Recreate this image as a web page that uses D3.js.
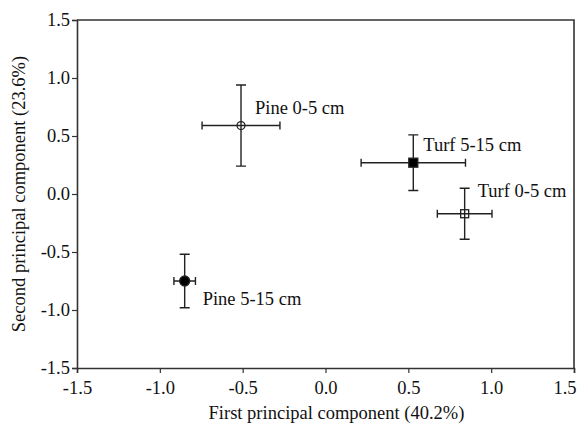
<!DOCTYPE html>
<html>
<head>
<meta charset="utf-8">
<script src="https://cdn.jsdelivr.net/npm/d3@7/dist/d3.min.js"></script>
<style>
  body { margin: 0; background: #fff; }
  text { font-family: "Liberation Serif", "Times New Roman", serif; fill: #111; }
</style>
</head>
<body>
<div class="canva"></div>
<script>
// data
const groups = ["Pine 0-5 cm", "Turf 5-15 cm", "Turf 0-5 cm", "Pine 5-15 cm"];
const pc1 = [-0.51, 0.53, 0.84, -0.85];
const pc2 = [0.59, 0.27, -0.17, -0.75];
const pc1Err = [0.235, 0.315, 0.165, 0.065];
const pc2Err = [0.35, 0.24, 0.22, 0.23];
const markers = ["circle-open", "square-filled", "square-open", "circle-filled"];
const tickValues = [-1.5, -1.0, -0.5, 0.0, 0.5, 1.0, 1.5];

// label offsets from the point (px)
const labelOffset = [[14, -12], [10, -12], [13, -17], [18, 24]];

const svg = d3.select(".canva").append("svg")
    .attr("width", 578)
    .attr("height", 432);

const margin = {top: 20, right: 4, bottom: 64, left: 77};
const graphWidth = 578 - margin.left - margin.right;
const graphHeight = 432 - margin.top - margin.bottom;

const g = svg.append("g")
    .attr("transform", `translate(${margin.left}, ${margin.top})`);

const x = d3.scaleLinear().domain([-1.5, 1.5]).range([0, graphWidth]);
const y = d3.scaleLinear().domain([-1.5, 1.5]).range([graphHeight, 0]);

const ink = "#222";
const fmt = d => d3.format(".1f")(d).replace("−", "-");

// frame (top and right)
g.append("path")
    .attr("d", `M0,0H${graphWidth}V${graphHeight}`)
    .attr("fill", "none")
    .attr("stroke", "#333")
    .attr("stroke-width", 1.6);

const xAxis = g.append("g")
    .attr("transform", `translate(0, ${graphHeight})`)
    .call(d3.axisBottom(x).tickValues(tickValues).tickFormat(fmt).tickSize(5).tickPadding(8));
const yAxis = g.append("g")
    .call(d3.axisLeft(y).tickValues(tickValues).tickFormat(fmt).tickSize(5).tickPadding(2));

[xAxis, yAxis].forEach(a => {
  a.select(".domain").attr("stroke", "#333").attr("stroke-width", 1.6);
  a.selectAll(".tick line").attr("stroke", "#333").attr("stroke-width", 1.2);
  a.selectAll(".tick text")
      .style("font-family", "'Liberation Serif', serif")
      .style("font-size", "18.5px")
      .attr("fill", "#111");
});
// keep the last x label inside the window
xAxis.selectAll(".tick text").filter(d => d === 1.5)
    .attr("text-anchor", "end")
    .attr("dx", "2");

// axis titles
svg.append("text")
    .attr("x", margin.left + graphWidth / 2 + 11)
    .attr("y", 419)
    .attr("text-anchor", "middle")
    .style("font-size", "18.5px")
    .text("First principal component (40.2%)");

svg.append("text")
    .attr("transform", `translate(25, ${margin.top + graphHeight / 2}) rotate(-90)`)
    .attr("text-anchor", "middle")
    .style("font-size", "18.5px")
    .text("Second principal component (23.6%)");

// error bars
const cap = 4;
groups.forEach((name, i) => {
  const cx = x(pc1[i]), cy = y(pc2[i]);
  const x0 = x(pc1[i] - pc1Err[i]), x1 = x(pc1[i] + pc1Err[i]);
  const y0 = y(pc2[i] + pc2Err[i]), y1 = y(pc2[i] - pc2Err[i]);
  const bar = g.append("g").attr("stroke", ink).attr("stroke-width", 1.4).attr("fill", "none");
  bar.append("path").attr("d",
      `M${x0},${cy}H${x1}` +
      `M${x0},${cy - cap}V${cy + cap}M${x1},${cy - cap}V${cy + cap}` +
      `M${cx},${y0}V${y1}` +
      `M${cx - cap - 1},${y0}H${cx + cap + 1}M${cx - cap - 1},${y1}H${cx + cap + 1}`);

  // marker
  const m = markers[i];
  if (m.startsWith("circle")) {
    g.append("circle")
        .attr("cx", cx).attr("cy", cy)
        .attr("r", m === "circle-filled" ? 5 : 4)
        .attr("fill", m === "circle-filled" ? "#000" : "none")
        .attr("stroke", ink).attr("stroke-width", 1.3);
  } else {
    const s = m === "square-filled" ? 9 : 8;
    g.append("rect")
        .attr("x", cx - s / 2).attr("y", cy - s / 2)
        .attr("width", s).attr("height", s)
        .attr("fill", m === "square-filled" ? "#000" : "none")
        .attr("stroke", ink).attr("stroke-width", 1.3);
  }

  g.append("text")
      .attr("x", cx + labelOffset[i][0])
      .attr("y", cy + labelOffset[i][1])
      .style("font-size", "18.5px")
      .text(name);
});
</script>
</body>
</html>
